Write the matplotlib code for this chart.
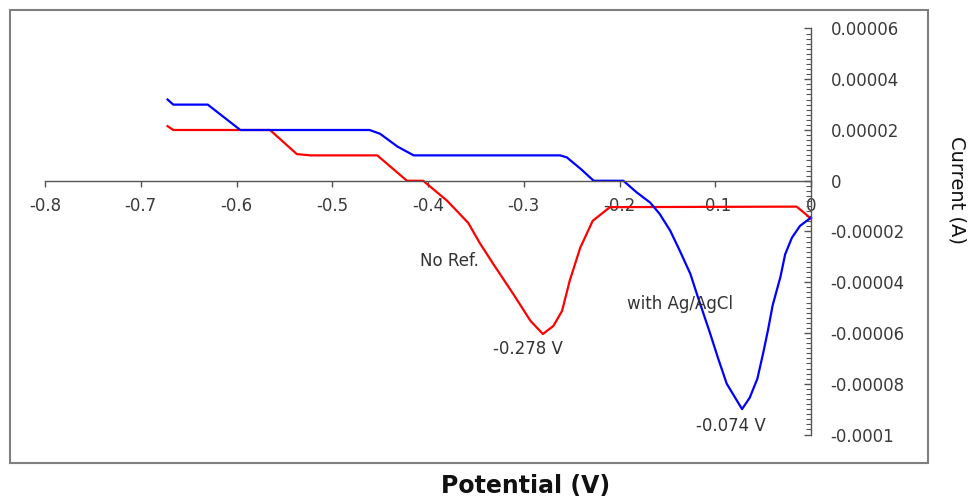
import matplotlib
matplotlib.use("Agg")
import matplotlib.pyplot as plt
from matplotlib.patches import Rectangle
from matplotlib.ticker import MultipleLocator, FuncFormatter

plt.rcParams['axes.unicode_minus'] = False

# potential (V) and current (x1e-5 A)
blue_x = [-0.672, -0.666, -0.630, -0.613, -0.596, -0.461, -0.450, -0.432, -0.415, -0.262, -0.255,
          -0.240, -0.227, -0.196, -0.182, -0.168, -0.158, -0.147, -0.137, -0.126, -0.118, -0.1055,
          -0.097, -0.088, -0.072, -0.064, -0.056, -0.050, -0.045, -0.040, -0.032, -0.027, -0.020,
          -0.0115, 0.0]
blue_y = [3.2, 3.0, 3.0, 2.5, 2.0, 2.0, 1.85, 1.35, 1.0, 1.0, 0.92,
          0.45, 0.0, 0.0, -0.46, -0.86, -1.31, -1.97, -2.76, -3.67, -4.6, -6.0,
          -7.0, -8.0, -9.0, -8.55, -7.8, -6.8, -5.9, -4.9, -3.8, -2.9, -2.25,
          -1.78, -1.45]

red_x = [-0.672, -0.666, -0.565, -0.537, -0.523, -0.453, -0.422, -0.405, -0.380, -0.358, -0.346,
         -0.332, -0.311, -0.293, -0.280, -0.269, -0.260, -0.252, -0.241, -0.228, -0.210, -0.015,
         -0.006, 0.0]
red_y = [2.15, 2.0, 2.0, 1.05, 1.0, 1.0, 0.0, 0.0, -0.79, -1.66, -2.45,
         -3.27, -4.46, -5.52, -6.04, -5.72, -5.13, -3.94, -2.64, -1.58, -1.04, -1.02,
         -1.3, -1.5]

blue_y = [v * 1e-5 for v in blue_y]
red_y = [v * 1e-5 for v in red_y]

x_ticks = [-0.8, -0.7, -0.6, -0.5, -0.4, -0.3, -0.2, -0.1, 0.0]
y_ticks = [-0.0001, -0.00008, -0.00006, -0.00004, -0.00002, 0.0, 0.00002, 0.00004, 0.00006]

# text labels: (text, x, y, ha)
notes = [("No Ref.", -0.408, -3.16e-5, "left"),
         ("with Ag/AgCl", -0.192, -4.85e-5, "left"),
         ("-0.278 V", -0.2955, -6.63e-5, "center"),
         ("-0.074 V", -0.0835, -9.66e-5, "center")]

W, H = 973, 498
fig = plt.figure(figsize=(W / 100, H / 100), dpi=100)

# outer chart frame
fig.patches.append(Rectangle((10 / W, 1 - 463 / H), 918 / W, 453 / H, transform=fig.transFigure,
                             fill=False, edgecolor='#7f7f7f', linewidth=1.5))

ax = fig.add_axes([45 / W, 1 - 434.5 / H, (811 - 45) / W, (434.5 - 28.5) / H])
ax.patch.set_alpha(0)

ax.plot(red_x, red_y, color='#ff0000', linewidth=1.6, clip_on=False)
ax.plot(blue_x, blue_y, color='#0000ff', linewidth=1.6, clip_on=False)

ax.set_xlim(-0.8, 0)
ax.set_ylim(-0.0001, 0.00006)

ax.spines['top'].set_visible(False)
ax.spines['left'].set_visible(False)
ax.spines['bottom'].set_position(('data', 0))
for s in ('bottom', 'right'):
    ax.spines[s].set_color('#555555')
    ax.spines[s].set_linewidth(1.0)

ax.yaxis.tick_right()
ax.set_xticks(x_ticks)
ax.set_yticks(y_ticks)
ax.xaxis.set_major_formatter(FuncFormatter(lambda v, p: "%g" % round(v, 2)))
ax.yaxis.set_major_formatter(FuncFormatter(
    lambda v, p: ("%.5f" % v).rstrip('0').rstrip('.') if abs(v) > 1e-12 else "0"))
ax.yaxis.set_minor_locator(MultipleLocator(0.000002))

ax.tick_params(axis='x', direction='out', length=4, width=1, color='#555555',
               labelsize=12, labelcolor='#3a3a3a', pad=8)
ax.tick_params(axis='y', which='major', direction='in', length=5, width=1, color='#555555',
               labelsize=12, labelcolor='#3a3a3a', pad=14)
ax.tick_params(axis='y', which='minor', direction='in', length=3.5, width=0.8, color='#555555')

for txt, x, y, ha in notes:
    ax.text(x, y, txt, ha=ha, va='center', fontsize=12, color='#333333')

fig.text(526 / W, 1 - 486 / H, "Potential (V)", ha='center', va='center',
         fontsize=17, fontweight='bold', color='#111111')
fig.text(957 / W, 1 - 190 / H, "Current (A)", ha='center', va='center',
         rotation=-90, fontsize=14, color='#111111')

fig.savefig("out.png", dpi=100)
